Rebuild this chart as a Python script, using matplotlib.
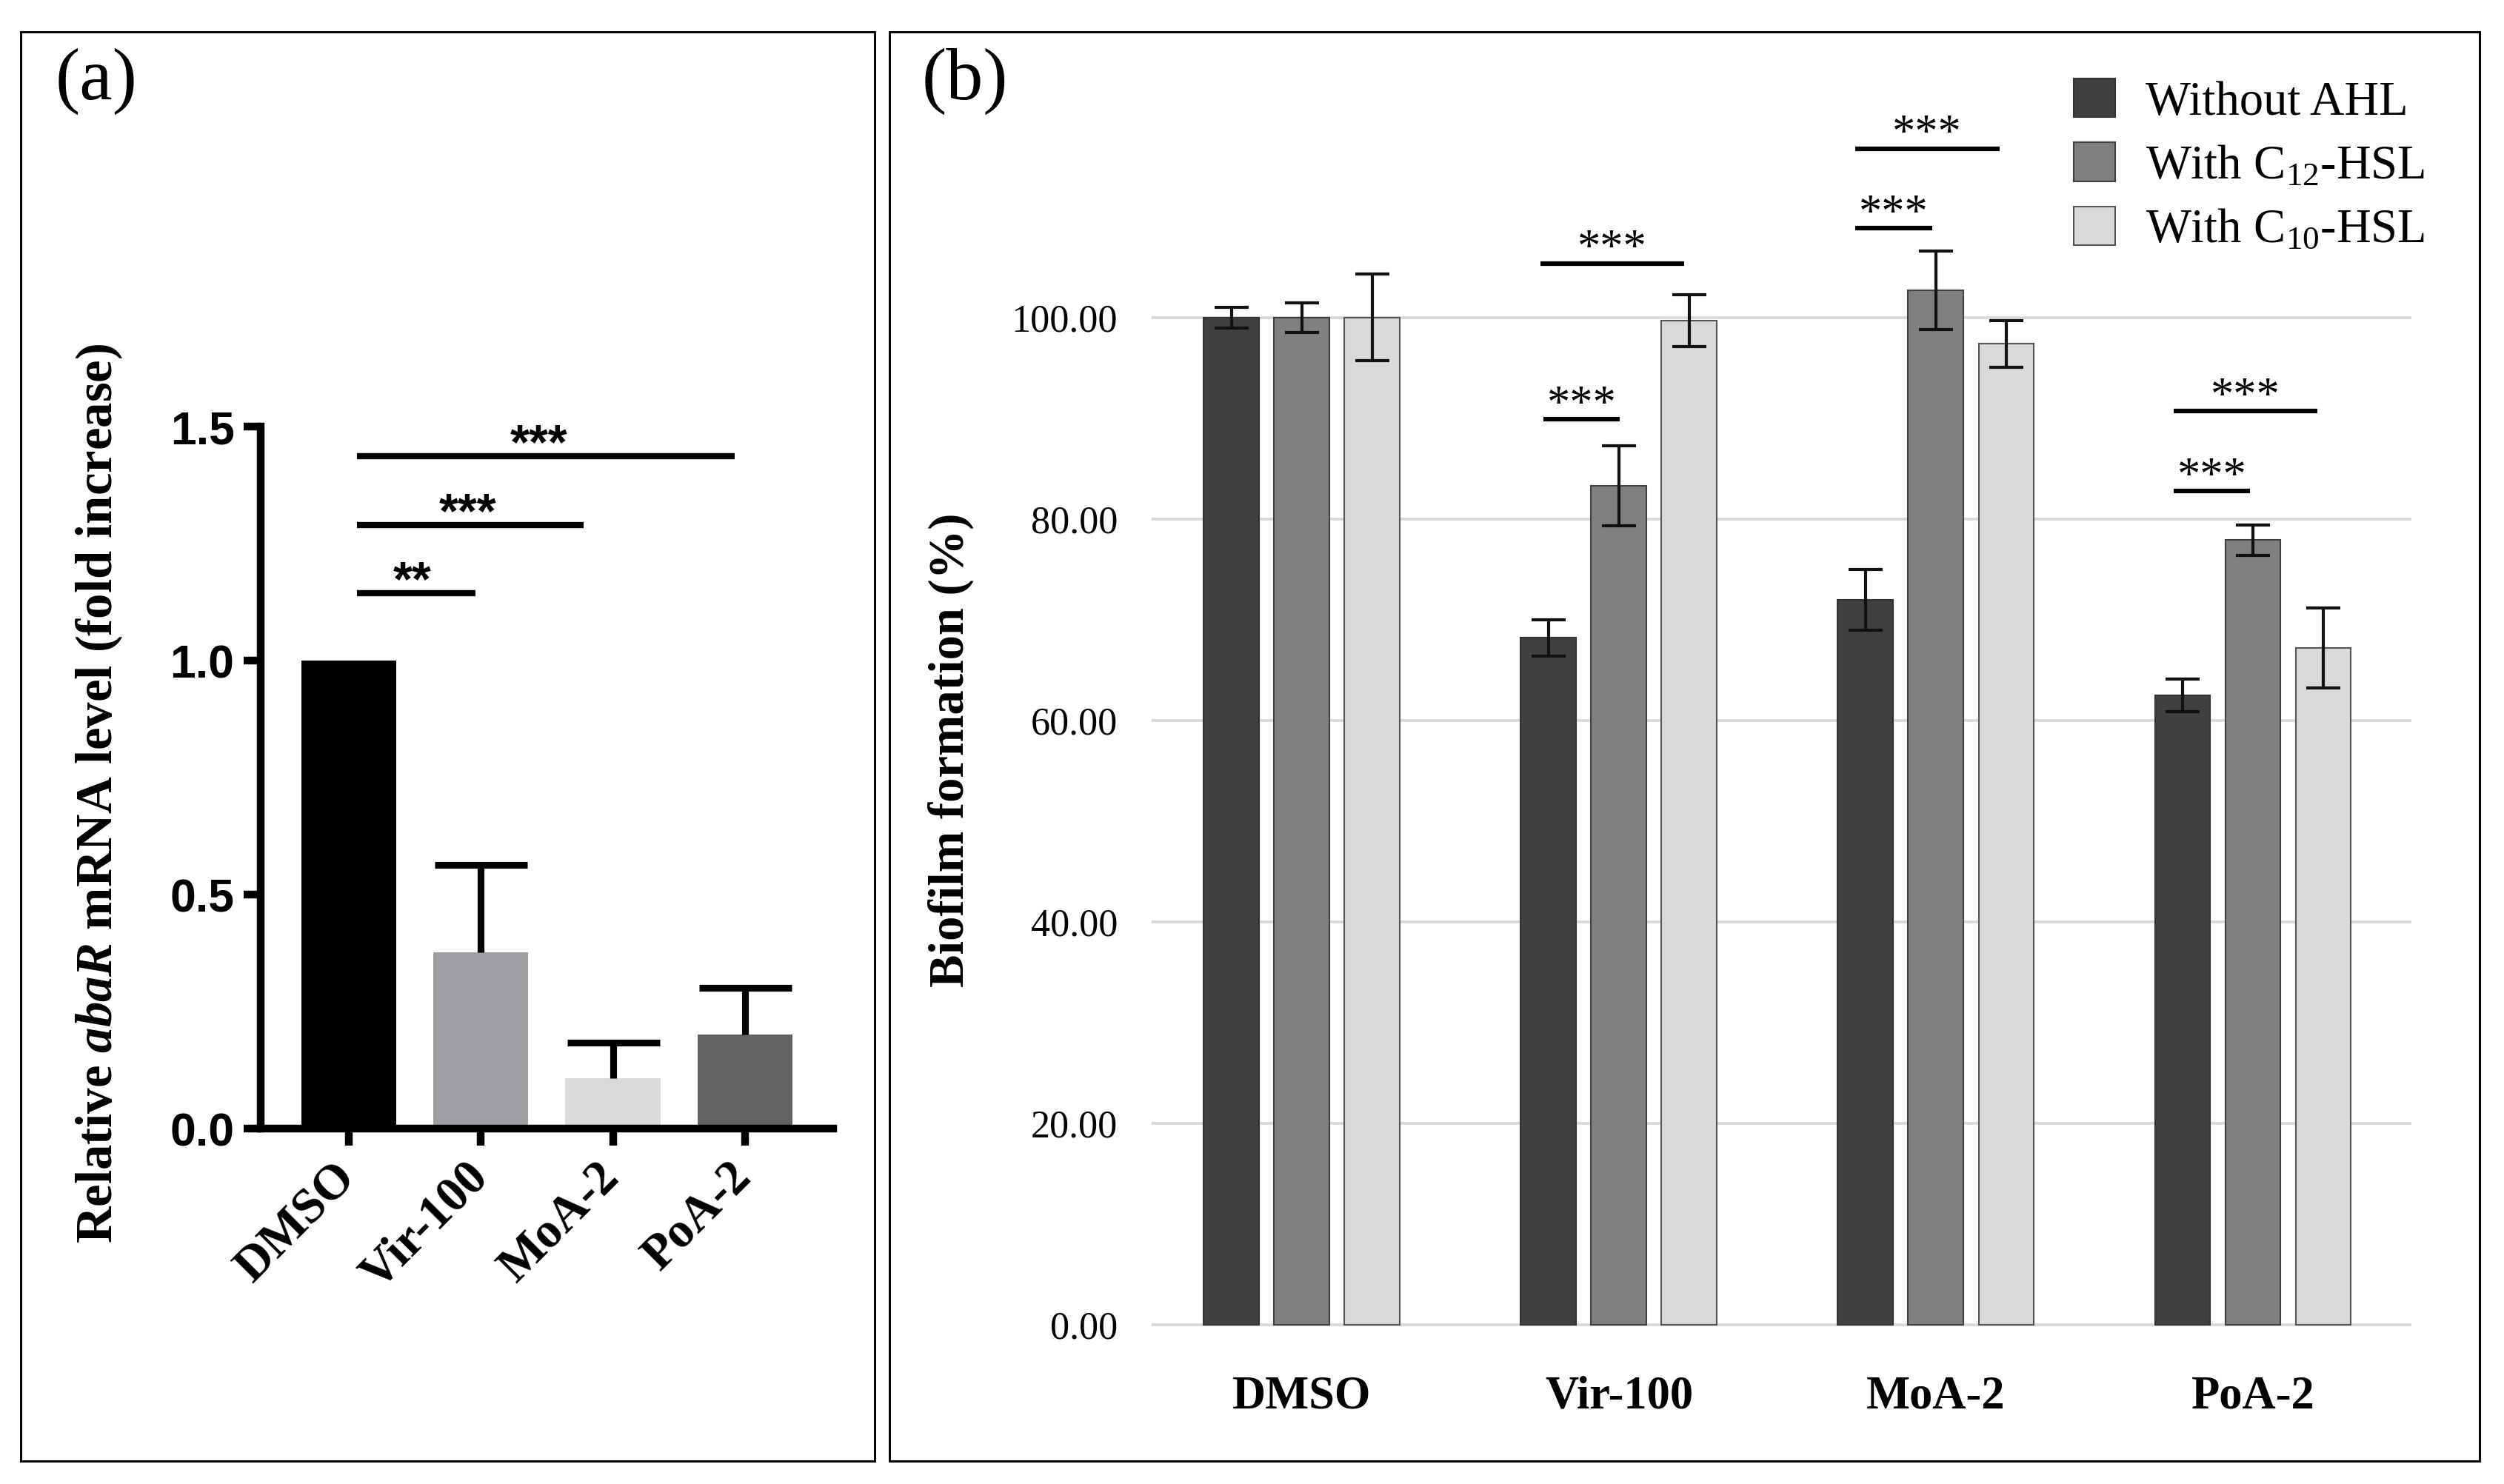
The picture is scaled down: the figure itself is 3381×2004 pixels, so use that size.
import numpy as np
import matplotlib.pyplot as plt
from matplotlib.patches import Rectangle

plt.rcParams['font.family'] = ['Liberation Serif', 'DejaVu Serif']
plt.rcParams['mathtext.fontset'] = 'custom'
plt.rcParams['mathtext.rm'] = 'Liberation Serif'
plt.rcParams['mathtext.it'] = 'Liberation Serif:italic:bold'
plt.rcParams['mathtext.bf'] = 'Liberation Serif:bold'

# ---- panel (a) data: relative abaR mRNA level ----
a_groups = ['DMSO', 'Vir-100', 'MoA-2', 'PoA-2']
a_means = [1.0, 0.377, 0.108, 0.201]
a_err = [0.0, 0.186, 0.076, 0.099]
a_colors = ['#000000', '#9e9ea2', '#d9d9d9', '#636363']
# significance: (x from, x to, height, label, label x)
a_sig = [(0.06, 0.96, 1.144, '**', 0.48), (0.06, 1.78, 1.29, '***', 0.90),
         (0.06, 2.92, 1.437, '***', 1.44)]

# ---- panel (b) data: biofilm formation (%) ----
b_groups = ['DMSO', 'Vir-100', 'MoA-2', 'PoA-2']
b_series = ['Without AHL', 'With C$\\mathregular{_{12}}$-HSL', 'With C$\\mathregular{_{10}}$-HSL']
b_without = [100.0, 68.2, 72.0, 62.5]
b_c12 = [100.0, 83.3, 102.7, 77.9]
b_c10 = [100.0, 99.7, 97.4, 67.2]
b_without_err = [1.0, 1.8, 3.0, 1.6]
b_c12_err = [1.5, 4.0, 3.9, 1.5]
b_c10_err = [4.3, 2.6, 2.3, 4.0]
b_colors = ['#404040', '#808080', '#d9d9d9']
b_edges = ['#333333', '#404040', '#555555']
# significance: (group, x from, x to, height)
b_sig = [(1, -0.238, 0.002, 89.9), (1, -0.248, 0.206, 105.4),
         (2, -0.255, -0.012, 108.9), (2, -0.255, 0.200, 116.8),
         (3, -0.250, -0.010, 82.8), (3, -0.250, 0.203, 90.7)]

W, H = 3381, 2004
fig = plt.figure(figsize=(W / 300, H / 300), dpi=300)

# panel boxes
for x0, x1 in [(28, 1181), (1201, 3348)]:
    fig.add_artist(Rectangle((x0 / W, 1 - 1973 / H), (x1 - x0) / W, 1930 / H,
                             transform=fig.transFigure, fill=False, lw=0.7, color='black'))

fig.text(75 / W, 1 - 110 / H, '(a)', fontsize=24, va='center', ha='left')
fig.text(1245 / W, 1 - 110 / H, '(b)', fontsize=24, va='center', ha='left')

# ================= panel (a) =================
axa = fig.add_axes([352 / W, 1 - 1524 / H, 773 / W, 948 / H])
xa = np.arange(len(a_groups))
axa.bar(xa, a_means, width=0.72, color=a_colors, zorder=2)
eb = axa.errorbar(xa[1:], a_means[1:], yerr=[np.zeros(3), a_err[1:]], fmt='none',
                  ecolor='black', elinewidth=2.2, capsize=15, capthick=2.2, zorder=3)
eb[1][0].set_visible(False)  # no cap on the lower side
axa.set_xlim(-0.667, 3.668)
axa.set_ylim(0, 1.5)
axa.set_yticks([0.0, 0.5, 1.0, 1.5])
axa.set_yticklabels(['0.0', '0.5', '1.0', '1.5'], fontfamily='Liberation Sans',
                    fontweight='bold', fontsize=15)
axa.set_xticks(xa)
axa.set_xticklabels(a_groups, rotation=45, ha='right', va='center',
                    rotation_mode='anchor', fontweight='bold', fontsize=16)
for s in ['top', 'right']:
    axa.spines[s].set_visible(False)
for s in ['left', 'bottom']:
    axa.spines[s].set_linewidth(2.5)
axa.tick_params(axis='both', width=2.5, length=5.5)
axa.tick_params(axis='y', pad=3)
axa.tick_params(axis='x', pad=8)
axa.set_ylabel('Relative $\\mathit{abaR}$ mRNA level (fold increase)',
               fontweight='bold', fontsize=16.5)
axa.yaxis.set_label_coords(-0.238, 0.477)

for x0, x1, h, lab, lx in a_sig:
    axa.plot([x0, x1], [h, h], color='black', lw=2, clip_on=False,
             solid_capstyle='butt')
    axa.text(lx, h - 0.005, lab, ha='center', va='baseline',
             fontfamily='Liberation Sans', fontweight='bold', fontsize=16, clip_on=False)

# ================= panel (b) =================
axb = fig.add_axes([1555 / W, 1 - 1816 / H, 1701 / W, 1727 / H])
xb = np.arange(len(b_groups))
step = 0.222
bw = 0.175
vals = [b_without, b_c12, b_c10]
errs = [b_without_err, b_c12_err, b_c10_err]
for k in range(3):
    pos = xb + (k - 1) * step
    axb.bar(pos, vals[k], width=bw, color=b_colors[k], edgecolor=b_edges[k],
            linewidth=0.5, label=b_series[k], zorder=2)
    axb.errorbar(pos, vals[k], yerr=errs[k], fmt='none', ecolor='#111111',
                 elinewidth=1.0, capsize=5.5, capthick=1.0, zorder=3)

axb.set_xlim(-0.474, 3.5)
axb.set_ylim(-2, 125)
axb.set_yticks([0, 20, 40, 60, 80, 100])
axb.set_yticklabels(['%.2f' % v for v in [0, 20, 40, 60, 80, 100]], fontsize=12.5)
axb.yaxis.grid(True, color='#d9d9d9', lw=0.9, zorder=0)
axb.set_axisbelow(True)
axb.set_xticks(xb)
axb.set_xticklabels(b_groups, fontweight='bold', fontsize=15)
axb.tick_params(axis='both', length=0)
axb.tick_params(axis='y', pad=11)
axb.tick_params(axis='x', pad=10)
for s in axb.spines.values():
    s.set_visible(False)
axb.set_ylabel('Biofilm formation (%)', fontweight='bold', fontsize=16)
axb.yaxis.set_label_coords(-0.141, 0.465)

for g, x0, x1, h in b_sig:
    axb.plot([xb[g] + x0, xb[g] + x1], [h, h], color='black', lw=1.5,
             solid_capstyle='butt', clip_on=False)
    axb.text(xb[g] + (x0 + x1) / 2, h + 0.15, '***', ha='center', va='baseline',
             fontsize=15)

axb.legend(loc='upper left', bbox_to_anchor=(2800 / W, 1 - 106 / H),
           bbox_transform=fig.transFigure, frameon=False, fontsize=15.5,
           handlelength=0.87, handleheight=0.87, handletextpad=0.63,
           labelspacing=0.37, borderpad=0, borderaxespad=0)

fig.savefig('out.png', dpi=300)
